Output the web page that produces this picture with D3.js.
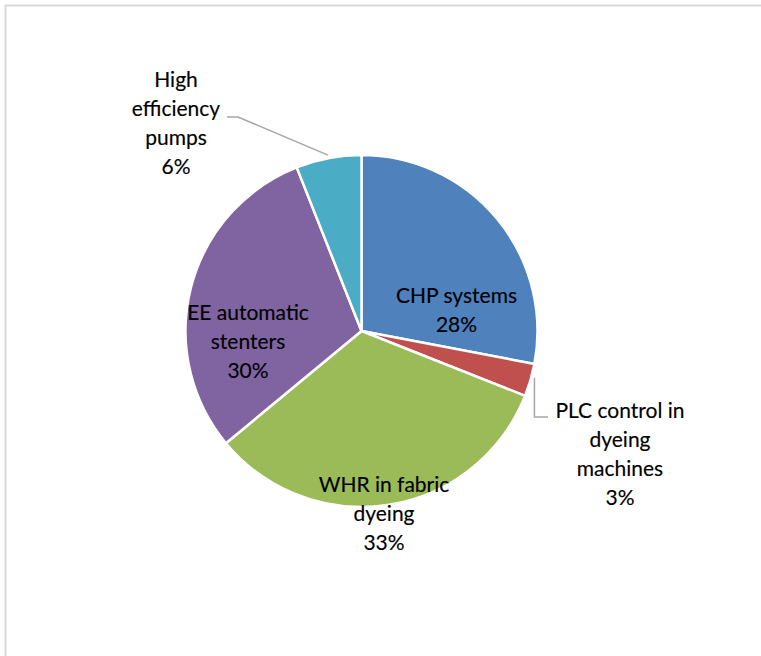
<!DOCTYPE html>
<html>
<head>
<meta charset="utf-8">
<script src="https://cdn.jsdelivr.net/npm/d3@7"></script>
<style>
  html, body { margin: 0; padding: 0; background: #fff; }
  svg { display: block; }
  .lbl { font-family: Lato, "Open Sans", sans-serif; font-size: 21px; fill: #000; stroke: #000; stroke-width: 0.15px; }
</style>
</head>
<body>
<svg id="chart" width="761" height="656"></svg>
<script>
// Energy-saving measures, share of total savings (%)
const categories = [
  ["CHP systems"],
  ["PLC control in", "dyeing", "machines"],
  ["WHR in fabric", "dyeing"],
  ["EE automatic", "stenters"],
  ["High", "efficiency", "pumps"]
];
const values = [28, 3, 33, 30, 6];
const colors = ["#4F81BD", "#C0504D", "#9BBB59", "#8064A2", "#4BACC6"];

const W = 761, H = 656;
const cx = 361.5, cy = 331, R = 176;
const lineH = 29;

const svg = d3.select("#chart");

// chart-area frame
svg.append("rect")
  .attr("x", 5.5).attr("y", 5.5)
  .attr("width", W + 20).attr("height", H + 20)
  .attr("fill", "#fff")
  .attr("stroke", "#d9d9d9").attr("stroke-width", 2);

const data = values.map((v, i) => ({ name: categories[i], value: v, color: colors[i] }));

const pie = d3.pie().value(d => d.value).sort(null);
const arcs = pie(data);
const arc = d3.arc().innerRadius(0).outerRadius(R);

const g = svg.append("g").attr("transform", `translate(${cx},${cy})`);

g.selectAll("path.slice")
  .data(arcs)
  .join("path")
  .attr("class", "slice")
  .attr("d", arc)
  .attr("fill", d => d.data.color)
  .attr("stroke", "#fff")
  .attr("stroke-width", 2.5)
  .attr("stroke-linejoin", "round");

// label placement: centre of each text block (relative to pie centre)
const labelPos = [
  { x: 95, y: -20.5 },           // CHP
  { x: 258.5, y: 123.5 },        // PLC (outside)
  { x: 22.5, y: 182.5 },         // WHR
  { x: -113.5, y: 11 },          // EE
  { x: -185.5, y: -207.5 }       // pumps (outside)
];

// leader lines for the two outside labels
const edge = (d, r) => {
  const a = (d.startAngle + d.endAngle) / 2;
  return [r * Math.sin(a), -r * Math.cos(a)];
};
const leaders = [
  { i: 1, pts: d => { const p = edge(d, R + 2); return [[p[0] + 2, p[1] - 3], [p[0] + 2, 86], [186.5, 86]]; } },
  { i: 4, pts: d => { const p = edge(d, R + 3); return [p, [-123.5, -214], [-134.5, -214]]; } }
];
leaders.forEach(l => {
  g.append("path")
    .attr("d", d3.line()(l.pts(arcs[l.i])))
    .attr("fill", "none")
    .attr("stroke", "#a6a6a6")
    .attr("stroke-width", 1.5);
});

arcs.forEach((d, i) => {
  const lines = d.data.name.concat([d3.format(".0%")(d.data.value / 100)]);
  const pos = labelPos[i];
  const top = pos.y - (lines.length - 1) * lineH / 2;
  const t = g.append("text")
    .attr("class", "lbl")
    .attr("text-anchor", "middle");
  lines.forEach((s, k) => {
    t.append("tspan")
      .attr("x", pos.x)
      .attr("y", top + k * lineH)
      .attr("dy", "0.35em")
      .text(s);
  });
});
</script>
</body>
</html>
